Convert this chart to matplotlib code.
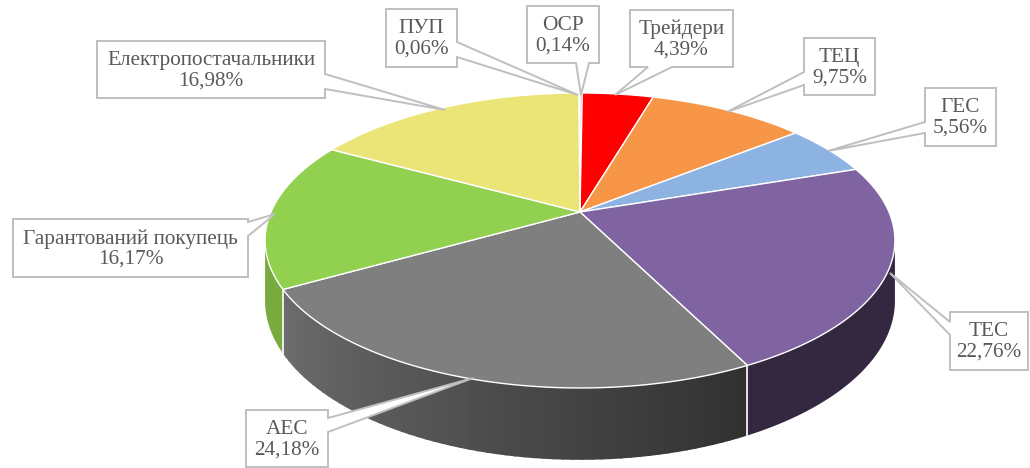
import numpy as np
import matplotlib
matplotlib.use("Agg")
from matplotlib import pyplot as plt
from matplotlib.patches import Polygon

# data: clockwise from 12 o'clock
names = ["ОСР", "Трейдери", "ТЕЦ", "ГЕС", "ТЕС", "АЕС",
         "Гарантований покупець", "Електропостачальники", "ПУП"]
shares = [0.14, 4.39, 9.75, 5.56, 22.76, 24.18, 16.17, 16.98, 0.06]
labels = ["0,14%", "4,39%", "9,75%", "5,56%", "22,76%", "24,18%",
          "16,17%", "16,98%", "0,06%"]

top_colors = ["#953735", "#FF0000", "#F79646", "#8DB3E2", "#8064A2",
              "#7F7F7F", "#92D050", "#EBE477", "#4BACC6"]
side_colors = ["#6E2826", "#BB0000", "#B86E33", "#6585AA", "#33283F",
               None, "#77AB3D", "#B5AF58", "#357F93"]

# pie geometry in pixels (perspective projection of a disc)
X0, Y0 = 580, 212
RX, RY = 309, 142
K = 0.193
DEPTH = 58


def proj(theta, drop=0.0):
    t = np.radians(theta)
    cx, cz = np.sin(t), -np.cos(t)
    s = 1.0 / (1.0 - K * cz)
    return X0 + RX * cx * s, Y0 + (RY * cz + drop) * s


fig = plt.figure(figsize=(10.30, 4.68), dpi=100)
ax = fig.add_axes([0, 0, 1, 1])
ax.set_xlim(0, 1030)
ax.set_ylim(468, 0)
ax.axis("off")

total = sum(shares)
edges = np.concatenate([[0], np.cumsum(shares) / total * 360])
vis_a = np.degrees(np.arccos(-K))
vis_b = 360 - vis_a

# side walls
for i in range(len(shares)):
    a, b = max(edges[i], vis_a), min(edges[i + 1], vis_b)
    if b <= a:
        continue
    if side_colors[i] is None:
        # gradient wall for the grey slice (dark on the right, lighter on the left)
        n = 60
        steps = np.linspace(a, b, n + 1)
        c1 = np.array([0x30, 0x30, 0x30]) / 255
        c2 = np.array([0x6E, 0x6E, 0x6E]) / 255
        for j in range(n):
            th = np.linspace(steps[j], min(steps[j + 1] + 0.3, b), 4)
            tx, ty = proj(th)
            bx, by = proj(th[::-1], DEPTH)
            f = (j + 0.5) / n
            col = c1 * (1 - f) + c2 * f
            ax.add_patch(Polygon(np.column_stack([np.r_[tx, bx], np.r_[ty, by]]),
                                 closed=True, fc=col, ec="none", zorder=1))
    else:
        th = np.linspace(a, b, 80)
        tx, ty = proj(th)
        bx, by = proj(th[::-1], DEPTH)
        ax.add_patch(Polygon(np.column_stack([np.r_[tx, bx], np.r_[ty, by]]),
                             closed=True, fc=side_colors[i], ec="none", zorder=1))

# white seams on the side where slices meet
for e in edges[1:-1]:
    if vis_a < e < vis_b:
        x1, y1 = proj(e)
        x2, y2 = proj(e, DEPTH)
        ax.plot([x1, x2], [y1, y2], color="white", lw=1.2, zorder=1.5)

# top face
for i in range(len(shares)):
    th = np.linspace(edges[i], edges[i + 1], max(3, int(shares[i] * 4)))
    tx, ty = proj(th)
    pts = np.column_stack([np.r_[X0, tx], np.r_[Y0, ty]])
    ax.add_patch(Polygon(pts, closed=True, fc=top_colors[i], ec="white",
                         lw=1.0, joinstyle="round", zorder=2))

# callout boxes: (x0, y0, x1, y1), side, base1, base2, tip
callouts = [
    ((527, 6, 599, 63), "bottom", 576, 589, (581, 95)),
    ((630, 10, 733, 67), "bottom", 648, 672, (615, 95)),
    ((804, 38, 875, 95), "left", 72, 85, (727, 112)),
    ((925, 88, 996, 146), "left", 122, 133, (828, 151)),
    ((950, 312, 1028, 370), "left", 322, 335, (890, 273)),
    ((246, 410, 328, 467), "right", 418, 432, (473, 378)),
    ((13, 219, 248, 277), "right", 222, 236, (275, 214)),
    ((97, 41, 325, 98), "right", 74, 89, (445, 110)),
    ((386, 9, 457, 67), "right", 42, 57, (578, 95)),
]

for i, (box, side, b1, b2, tip) in enumerate(callouts):
    x0, y0, x1, y1 = box
    if side == "right":
        pts = [(x0, y0), (x1, y0), (x1, b1), tip, (x1, b2), (x1, y1), (x0, y1)]
    elif side == "left":
        pts = [(x0, y0), (x1, y0), (x1, y1), (x0, y1), (x0, b2), tip, (x0, b1)]
    else:
        pts = [(x0, y0), (x1, y0), (x1, y1), (b2, y1), tip, (b1, y1), (x0, y1)]
    ax.add_patch(Polygon(pts, closed=True, fc="white", ec="#BFBFBF",
                         lw=1.4, zorder=3))
    ax.text((x0 + x1) / 2, (y0 + y1) / 2 + 1, names[i] + "\n" + labels[i],
            ha="center", va="center", fontsize=15.3, color="#595959",
            family="Liberation Serif", linespacing=1.1, zorder=4)

fig.savefig("out.png", dpi=100)
